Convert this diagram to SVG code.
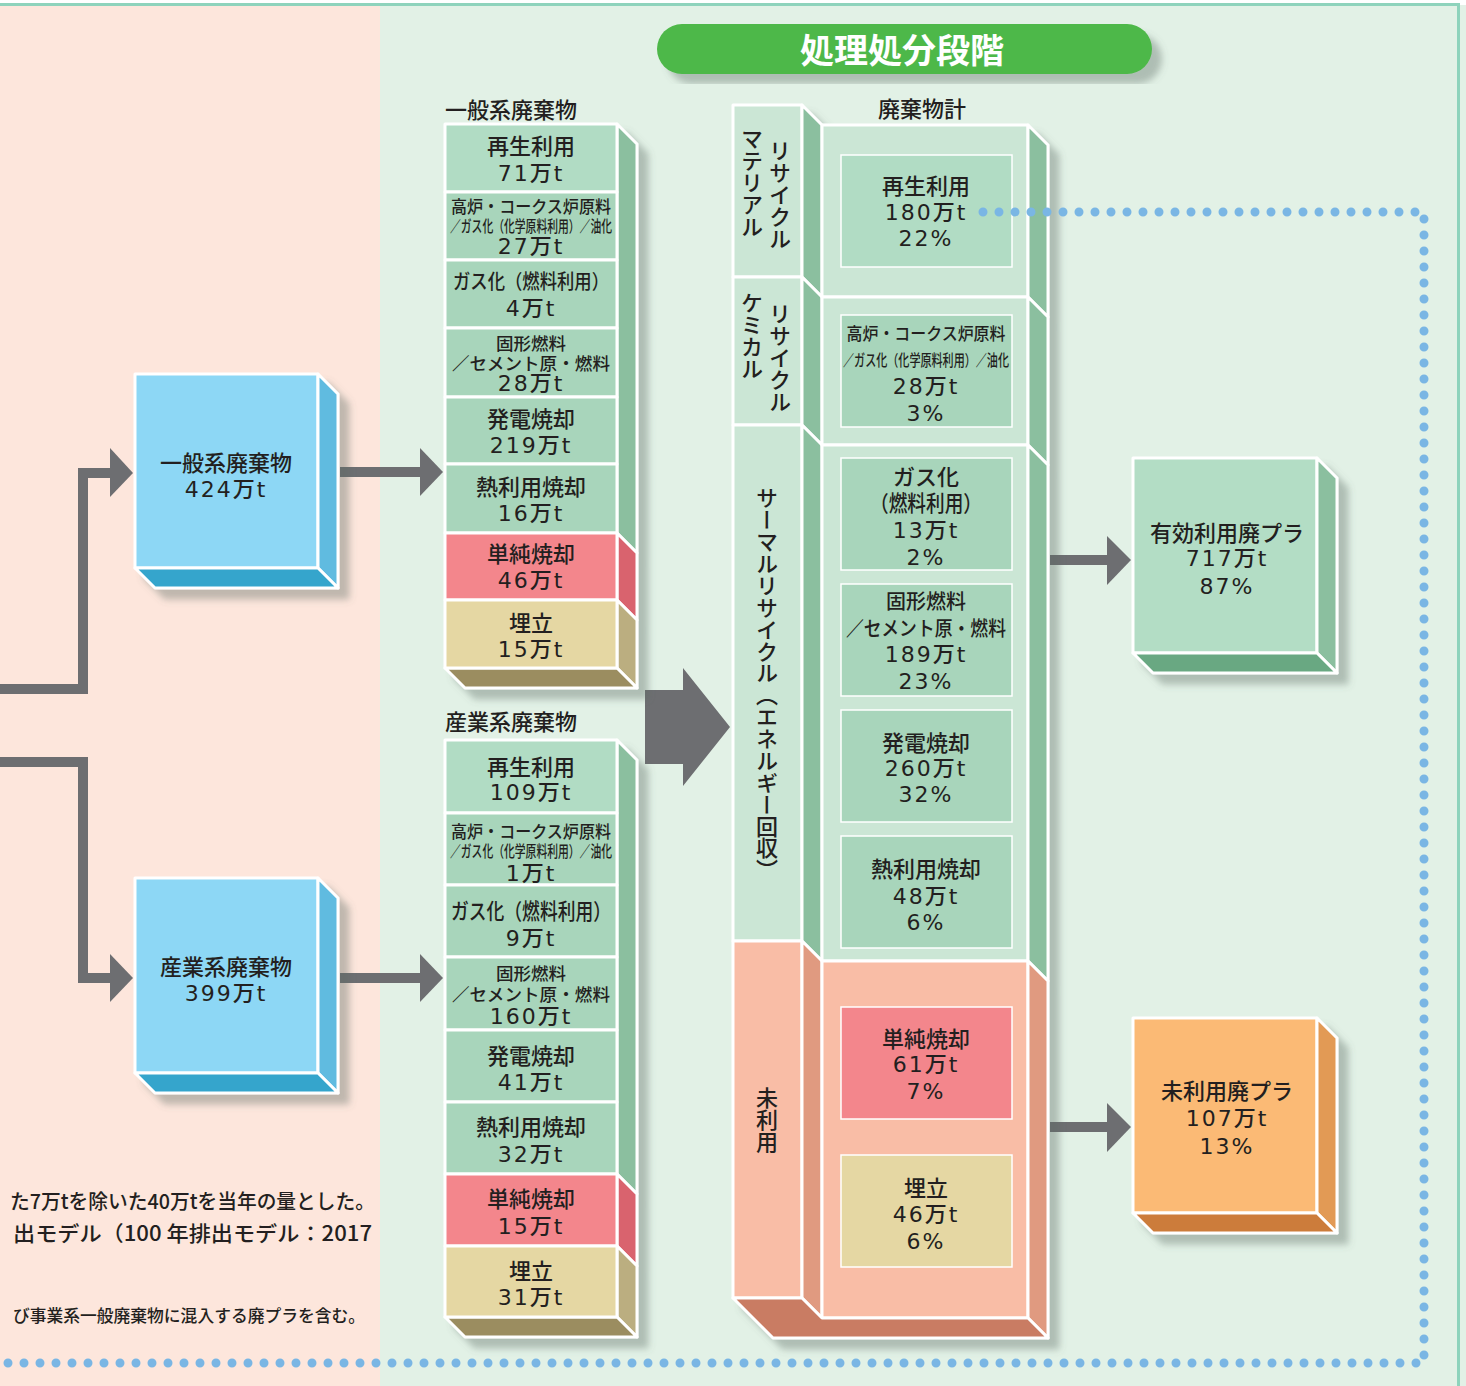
<svg xmlns="http://www.w3.org/2000/svg" width="1466" height="1386" viewBox="0 0 1466 1386">
<defs>
<filter id="sh" x="-15%" y="-10%" width="140%" height="130%">
<feDropShadow dx="10" dy="10" stdDeviation="3.5" flood-color="#5A6A62" flood-opacity="0.38"/>
</filter>
<style>
.t{font-family:"Noto Sans CJK JP","Noto Sans",sans-serif;fill:#231F20;text-anchor:middle;dominant-baseline:central;font-size:22px;font-weight:500;transform:translateY(-2px)}
.n{font-family:"DejaVu Sans","Noto Sans CJK JP",sans-serif;letter-spacing:2px;transform:none}
.hd{text-anchor:start}
.s20{font-size:20px}
.s18{font-size:17.5px}
.s17{font-size:17px}
.s16{font-size:15.5px}
.v{font-family:"Noto Sans CJK JP",sans-serif;font-size:22px;font-weight:500;fill:#231F20;writing-mode:vertical-rl;text-anchor:start}
.w{stroke:#FFFFFF;stroke-width:3;stroke-linejoin:round}
.wi{stroke:#FFFFFF;stroke-width:1.5}
.gr{fill:#A8D5BB}.gl{fill:#B1DCC4}.pk{fill:#F3868C}.tn{fill:#E5D7A3}
.sg{fill:#8BBF9F}.sp{fill:#D9636E}.st{fill:#BBAE80}.bt{fill:#9B8D61}
.sec{fill:#CBE6D5}.sal{fill:#F9BDA6}.ssal{fill:#E09A80}
.con{fill:none;stroke:#6D6E71;stroke-width:10}
.head{fill:#6D6E71}
.foot{font-family:"Noto Sans CJK JP",sans-serif;fill:#231F20;dominant-baseline:central;font-weight:500}
</style>
</defs>

<!-- background -->
<rect width="1466" height="1386" fill="#FFFFFF"/>
<rect x="0" y="5" width="380" height="1381" fill="#FDE6DC"/>
<rect x="380" y="5" width="1086" height="1381" fill="#E2F1E6"/>
<line x1="0" y1="4.5" x2="1460" y2="4.5" stroke="#8ED3BC" stroke-width="3"/>
<line x1="1458.5" y1="3" x2="1458.5" y2="1386" stroke="#8ED3BC" stroke-width="3"/>

<!-- title -->
<g id="title">
<rect x="657" y="24" width="495" height="50" rx="25" fill="#4DB848" filter="url(#sh)"/>
<text class="t" x="902" y="50" style="fill:#FFFFFF;font-weight:700;font-size:34px">処理処分段階</text>
</g>

<!-- footnotes -->
<g id="notes">
<text class="foot" x="10" y="1200" font-size="20.5" textLength="365" lengthAdjust="spacingAndGlyphs">た7万tを除いた40万tを当年の量とした。</text>
<text class="foot" x="13" y="1232" font-size="21" textLength="359" lengthAdjust="spacingAndGlyphs">出モデル（100 年排出モデル：2017</text>
<text class="foot" x="13" y="1314" font-size="17" textLength="352" lengthAdjust="spacingAndGlyphs">び事業系一般廃棄物に混入する廃プラを含む。</text>
</g>

<!-- connectors -->
<g id="connectors">
<path class="con" d="M0,689 H83 V473 H112"/>
<polygon class="head" points="110,448 133,473 110,497"/>
<path class="con" d="M0,762 H83 V978 H112"/>
<polygon class="head" points="110,954 133,978 110,1002"/>
<path class="con" d="M340,472 H422"/>
<polygon class="head" points="420,448 443,472 420,496"/>
<path class="con" d="M340,978 H422"/>
<polygon class="head" points="420,954 443,978 420,1002"/>
<polygon class="head" points="645,690 683,690 683,668 730,727 683,786 683,764 645,764"/>
<path class="con" d="M1050,560 H1109"/>
<polygon class="head" points="1107,536 1131,560 1107,585"/>
<path class="con" d="M1050,1127 H1109"/>
<polygon class="head" points="1107,1103 1131,1127 1107,1152"/>
</g>

<!-- left box 1 -->
<g id="box-general">
<g filter="url(#sh)">
<rect x="135" y="374" width="183" height="194" fill="#8DD7F5" class="w"/>
<polygon points="318,374 338,394 338,588 318,568" fill="#60BBE0" class="w"/>
<polygon points="135,568 318,568 338,588 155,588" fill="#35A5CC" class="w"/>
</g>
<text class="t" x="226" y="463">一般系廃棄物</text>
<text class="t n" x="226" y="489">424万t</text>
</g>

<!-- left box 2 -->
<g id="box-industrial">
<g filter="url(#sh)">
<rect x="135" y="878" width="183" height="195" fill="#8DD7F5" class="w"/>
<polygon points="318,878 338,898 338,1093 318,1073" fill="#60BBE0" class="w"/>
<polygon points="135,1073 318,1073 338,1093 155,1093" fill="#35A5CC" class="w"/>
</g>
<text class="t" x="226" y="967">産業系廃棄物</text>
<text class="t n" x="226" y="993">399万t</text>
</g>

<!-- column 1 -->
<g id="col-general">
<text class="t hd" x="445" y="110">一般系廃棄物</text>
<g filter="url(#sh)">
<polygon class="sg w" points="617,124 637,144 637,553 617,533"/>
<polygon class="sp w" points="617,533 637,553 637,620 617,600"/>
<polygon class="st w" points="617,600 637,620 637,688 617,668"/>
<polygon class="bt w" points="445,668 617,668 637,688 465,688"/>
<rect class="gl w" x="445" y="124" width="172" height="68"/>
<rect class="gr w" x="445" y="192" width="172" height="68"/>
<rect class="gr w" x="445" y="260" width="172" height="68"/>
<rect class="gr w" x="445" y="328" width="172" height="69"/>
<rect class="gr w" x="445" y="397" width="172" height="67"/>
<rect class="gr w" x="445" y="464" width="172" height="69"/>
<rect class="pk w" x="445" y="533" width="172" height="67"/>
<rect class="tn w" x="445" y="600" width="172" height="68"/>
</g>
<text class="t" x="531" y="146">再生利用</text>
<text class="t n" x="531" y="173">71万t</text>
<text class="t s17" x="531" y="207" textLength="160" lengthAdjust="spacingAndGlyphs">高炉・コークス炉原料</text>
<text class="t s16" x="531" y="227" textLength="162" lengthAdjust="spacingAndGlyphs">／ガス化（化学原料利用）／油化</text>
<text class="t n" x="531" y="246">27万t</text>
<text class="t s20" x="531" y="282" textLength="156" lengthAdjust="spacingAndGlyphs">ガス化（燃料利用）</text>
<text class="t n" x="531" y="308">4万t</text>
<text class="t s18" x="531" y="344">固形燃料</text>
<text class="t s18" x="531" y="364" textLength="158" lengthAdjust="spacingAndGlyphs">／セメント原・燃料</text>
<text class="t n" x="531" y="383">28万t</text>
<text class="t" x="531" y="419">発電焼却</text>
<text class="t n" x="531" y="445">219万t</text>
<text class="t" x="531" y="487">熱利用焼却</text>
<text class="t n" x="531" y="513">16万t</text>
<text class="t" x="531" y="554">単純焼却</text>
<text class="t n" x="531" y="580">46万t</text>
<text class="t" x="531" y="623">埋立</text>
<text class="t n" x="531" y="649">15万t</text>
</g>

<!-- column 2 -->
<g id="col-industrial">
<text class="t hd" x="445" y="722">産業系廃棄物</text>
<g filter="url(#sh)">
<polygon class="sg w" points="617,740 637,760 637,1194 617,1174"/>
<polygon class="sp w" points="617,1174 637,1194 637,1266 617,1246"/>
<polygon class="st w" points="617,1246 637,1266 637,1337 617,1317"/>
<polygon class="bt w" points="445,1317 617,1317 637,1337 465,1337"/>
<rect class="gl w" x="445" y="740" width="172" height="73"/>
<rect class="gr w" x="445" y="813" width="172" height="72"/>
<rect class="gr w" x="445" y="885" width="172" height="72"/>
<rect class="gr w" x="445" y="957" width="172" height="73"/>
<rect class="gr w" x="445" y="1030" width="172" height="72"/>
<rect class="gr w" x="445" y="1102" width="172" height="72"/>
<rect class="pk w" x="445" y="1174" width="172" height="72"/>
<rect class="tn w" x="445" y="1246" width="172" height="71"/>
</g>
<text class="t" x="531" y="767">再生利用</text>
<text class="t n" x="531" y="792">109万t</text>
<text class="t s17" x="531" y="832" textLength="160" lengthAdjust="spacingAndGlyphs">高炉・コークス炉原料</text>
<text class="t s16" x="531" y="852" textLength="162" lengthAdjust="spacingAndGlyphs">／ガス化（化学原料利用）／油化</text>
<text class="t n" x="531" y="873">1万t</text>
<text class="t" x="531" y="911" textLength="160" lengthAdjust="spacingAndGlyphs">ガス化（燃料利用）</text>
<text class="t n" x="531" y="938">9万t</text>
<text class="t s18" x="531" y="974">固形燃料</text>
<text class="t s18" x="531" y="995" textLength="158" lengthAdjust="spacingAndGlyphs">／セメント原・燃料</text>
<text class="t n" x="531" y="1016">160万t</text>
<text class="t" x="531" y="1056">発電焼却</text>
<text class="t n" x="531" y="1082">41万t</text>
<text class="t" x="531" y="1127">熱利用焼却</text>
<text class="t n" x="531" y="1154">32万t</text>
<text class="t" x="531" y="1199">単純焼却</text>
<text class="t n" x="531" y="1226">15万t</text>
<text class="t" x="531" y="1271">埋立</text>
<text class="t n" x="531" y="1297">31万t</text>
</g>

<!-- total column -->
<g id="col-total">
<text class="t" x="922" y="109">廃棄物計</text>
<g filter="url(#sh)">
<rect class="sec w" x="733" y="105" width="69" height="172"/>
<rect class="sec w" x="733" y="277" width="69" height="148"/>
<rect class="sec w" x="733" y="425" width="69" height="516"/>
<rect class="sal w" x="733" y="941" width="69" height="357"/>
<polygon class="sg w" points="802,105 822,125 822,297 802,277"/>
<polygon class="sg w" points="802,277 822,297 822,445 802,425"/>
<polygon class="sg w" points="802,425 822,445 822,961 802,941"/>
<polygon class="ssal w" points="802,941 822,961 822,1318 802,1298"/>
<rect class="sec w" x="822" y="125" width="206" height="172"/>
<rect class="sec w" x="822" y="297" width="206" height="148"/>
<rect class="sec w" x="822" y="445" width="206" height="516"/>
<rect class="sal w" x="822" y="961" width="206" height="357"/>
<polygon class="sg w" points="1028,125 1048,145 1048,317 1028,297"/>
<polygon class="sg w" points="1028,297 1048,317 1048,465 1028,445"/>
<polygon class="sg w" points="1028,445 1048,465 1048,981 1028,961"/>
<polygon class="ssal w" points="1028,961 1048,981 1048,1338 1028,1318"/>
<polygon class="w" fill="#C97B63" points="733,1298 802,1298 822,1318 1028,1318 1048,1338 773,1338"/>
</g>
<rect class="gl wi" x="841" y="155" width="171" height="112"/>
<rect class="gr wi" x="841" y="315" width="171" height="112"/>
<rect class="gr wi" x="841" y="458" width="171" height="112"/>
<rect class="gr wi" x="841" y="584" width="171" height="112"/>
<rect class="gr wi" x="841" y="710" width="171" height="112"/>
<rect class="gr wi" x="841" y="836" width="171" height="112"/>
<rect class="pk wi" x="841" y="1007" width="171" height="112"/>
<rect class="tn wi" x="841" y="1155" width="171" height="112"/>

<text class="v" x="752" y="128">マテリアル</text>
<text class="v" x="780" y="140">リサイクル</text>
<text class="v" x="752" y="292">ケミカル</text>
<text class="v" x="780" y="303">リサイクル</text>
<text class="v" x="767" y="487" textLength="394" lengthAdjust="spacing">サーマルリサイクル（エネルギー回収）</text>
<text class="v" x="767" y="1087">未利用</text>

<text class="t" x="926" y="186">再生利用</text>
<text class="t n" x="926" y="212">180万t</text>
<text class="t n" x="926" y="238">22%</text>
<text class="t s18" x="926" y="334" textLength="159" lengthAdjust="spacingAndGlyphs">高炉・コークス炉原料</text>
<text class="t s16" x="926" y="361" textLength="166" lengthAdjust="spacingAndGlyphs">／ガス化（化学原料利用）／油化</text>
<text class="t n" x="926" y="386">28万t</text>
<text class="t n" x="926" y="413">3%</text>
<text class="t" x="926" y="477">ガス化</text>
<text class="t" x="926" y="503" textLength="112" lengthAdjust="spacingAndGlyphs">（燃料利用）</text>
<text class="t n" x="926" y="530">13万t</text>
<text class="t n" x="926" y="557">2%</text>
<text class="t s20" x="926" y="602">固形燃料</text>
<text class="t s20" x="926" y="629" textLength="160" lengthAdjust="spacingAndGlyphs">／セメント原・燃料</text>
<text class="t n" x="926" y="654">189万t</text>
<text class="t n" x="926" y="681">23%</text>
<text class="t" x="926" y="743">発電焼却</text>
<text class="t n" x="926" y="768">260万t</text>
<text class="t n" x="926" y="794">32%</text>
<text class="t" x="926" y="869">熱利用焼却</text>
<text class="t n" x="926" y="896">48万t</text>
<text class="t n" x="926" y="922">6%</text>
<text class="t" x="926" y="1039">単純焼却</text>
<text class="t n" x="926" y="1064">61万t</text>
<text class="t n" x="926" y="1091">7%</text>
<text class="t" x="926" y="1188">埋立</text>
<text class="t n" x="926" y="1214">46万t</text>
<text class="t n" x="926" y="1241">6%</text>
</g>

<!-- right box 1 -->
<g id="box-used">
<g filter="url(#sh)">
<rect x="1133" y="458" width="184" height="195" fill="#B3DDC5" class="w"/>
<polygon points="1317,458 1337,478 1337,673 1317,653" fill="#8BBF9F" class="w"/>
<polygon points="1133,653 1317,653 1337,673 1153,673" fill="#69A882" class="w"/>
</g>
<text class="t" x="1227" y="533">有効利用廃プラ</text>
<text class="t n" x="1227" y="558">717万t</text>
<text class="t n" x="1227" y="586">87%</text>
</g>

<!-- right box 2 -->
<g id="box-unused">
<g filter="url(#sh)">
<rect x="1133" y="1018" width="184" height="195" fill="#FBBA75" class="w"/>
<polygon points="1317,1018 1337,1038 1337,1233 1317,1213" fill="#E29A55" class="w"/>
<polygon points="1133,1213 1317,1213 1337,1233 1153,1233" fill="#CC7B3A" class="w"/>
</g>
<text class="t" x="1227" y="1091">未利用廃プラ</text>
<text class="t n" x="1227" y="1118">107万t</text>
<text class="t n" x="1227" y="1146">13%</text>
</g>

<!-- dotted line -->
<g id="dotted">
<path d="M983,212 H1424 V1363 H0" fill="none" stroke="#7AB6E4" stroke-width="9" stroke-linecap="round" stroke-dasharray="0 16"/>
</g>
</svg>
